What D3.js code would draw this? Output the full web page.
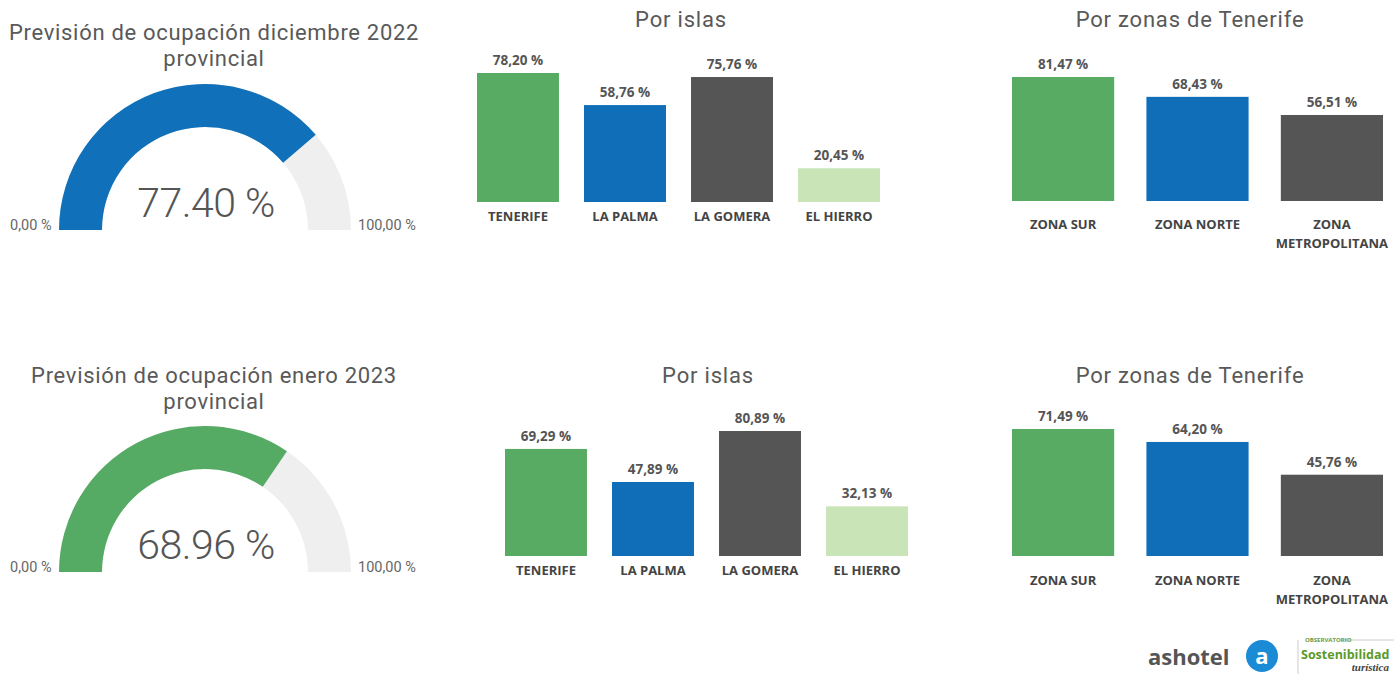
<!DOCTYPE html>
<html><head><meta charset="utf-8">
<script src="https://cdn.jsdelivr.net/npm/d3@7"></script>
<style>
body{margin:0;background:#fff;}
svg{display:block;}
</style></head>
<body>
<svg id="c" width="1394" height="674"></svg>
<script>
// ---- data ----
const gaugeTitles = [["Previsión de ocupación diciembre 2022","provincial"],["Previsión de ocupación enero 2023","provincial"]];
const gaugeValues = [77.40, 68.96];
const gaugeMin = 0, gaugeMax = 100;
const islas = ["TENERIFE","LA PALMA","LA GOMERA","EL HIERRO"];
const islasDic = [78.20, 58.76, 75.76, 20.45];
const islasEne = [69.29, 47.89, 80.89, 32.13];
const zonas = [["ZONA SUR"],["ZONA NORTE"],["ZONA","METROPOLITANA"]];
const zonasDic = [81.47, 68.43, 56.51];
const zonasEne = [71.49, 64.20, 45.76];
const islasTitle = "Por islas";
const zonasTitle = "Por zonas de Tenerife";

// ---- styles ----
const islaColors = ["#57AB63","#106EB8","#555555","#C9E5B8"];
const zonaColors = ["#57AB63","#106EB8","#555555"];
const gaugeColors = ["#1170BA","#55AA64"];
const fmt = v => d3.format(".2f")(v).replace(".", ",") + " %";
const svg = d3.select("#c");
const titleFont = "Roboto, 'DejaVu Sans', sans-serif";
const labelFont = "'Open Sans', 'Noto Sans', sans-serif";

// ---- gauges ----
const gauges = [{cx:212, cy:230, acx:205, ty:40}, {cx:212, cy:572, acx:205, ty:383}];
gauges.forEach((g, i) => {
  const grp = svg.append("g");
  const t = grp.append("text").attr("x", 214).attr("y", g.ty).attr("text-anchor","middle")
    .attr("font-family", titleFont).attr("font-size", 22).attr("fill","#595959").attr("letter-spacing","0.7");
  t.append("tspan").attr("x", 214).text(gaugeTitles[i][0]);
  t.append("tspan").attr("x", 214).attr("dy", 26).text(gaugeTitles[i][1]);
  const ang = d3.scaleLinear().domain([gaugeMin, gaugeMax]).range([-Math.PI/2, Math.PI/2]);
  const arc = d3.arc().innerRadius(103).outerRadius(146);
  const ag = grp.append("g").attr("transform", `translate(${g.acx},${g.cy})`);
  ag.append("path").attr("d", arc({startAngle: ang(gaugeMin), endAngle: ang(gaugeMax)})).attr("fill","#EFEFEF");
  ag.append("path").attr("d", arc({startAngle: ang(gaugeMin), endAngle: ang(gaugeValues[i])})).attr("fill", gaugeColors[i]);
  grp.append("text").attr("x", g.acx + 1).attr("y", g.cy - 13).attr("text-anchor","middle")
    .attr("font-family", titleFont).attr("font-weight", 300).attr("font-size", 41).attr("fill","#555")
    .attr("letter-spacing","-0.5")
    .text(d3.format(".2f")(gaugeValues[i]) + " %");
  grp.append("text").attr("x", 10).attr("y", g.cy).attr("font-family", titleFont).attr("font-size", 14.5).attr("fill","#666")
    .text(fmt(gaugeMin));
  grp.append("text").attr("x", 358).attr("y", g.cy).attr("font-family", titleFont).attr("font-size", 14.5).attr("fill","#666")
    .text(fmt(gaugeMax));
});

// ---- bar charts ----
function barChart(o){
  const x = d3.scaleBand().domain(o.cats.map((c,i)=>i)).range([o.x0, o.x1]).paddingInner(o.pad).paddingOuter(0);
  const y = d3.scaleLinear().domain([0, d3.max(o.vals)]).range([o.base, o.base - o.h]);
  const g = svg.append("g");
  g.append("text").attr("x", o.tx).attr("y", o.ty).attr("text-anchor","middle").attr("font-family", titleFont)
    .attr("font-size", 22).attr("fill","#595959").attr("letter-spacing","0.8").text(o.title);
  g.selectAll("rect").data(o.vals).join("rect")
    .attr("x", (d,i)=>x(i)).attr("width", x.bandwidth())
    .attr("y", d=>y(d)).attr("height", d=>o.base - y(d))
    .attr("fill", (d,i)=>o.colors[i]);
  g.selectAll("text.v").data(o.vals).join("text").attr("class","v")
    .attr("x",(d,i)=>x(i)+x.bandwidth()/2).attr("y", d=>y(d)-8).attr("text-anchor","middle")
    .attr("font-family", labelFont).attr("font-weight", 700).attr("font-size", 13.5).attr("fill","#555")
    .text(d=>fmt(d));
  o.cats.forEach((c,i)=>{
    const lines = Array.isArray(c) ? c : [c];
    const t = g.append("text").attr("x", x(i)+x.bandwidth()/2).attr("y", o.base + o.ld).attr("text-anchor","middle")
      .attr("font-family", labelFont).attr("font-weight", 700).attr("font-size", 13).attr("fill","#444");
    lines.forEach((l,k)=> t.append("tspan").attr("x", x(i)+x.bandwidth()/2).attr("dy", k?19:0).text(l));
  });
}
barChart({cats: islas, vals: islasDic, colors: islaColors, x0:477, x1:880, pad:0.234, base:202, h:129, ld:19, title: islasTitle, tx:681, ty:27});
barChart({cats: zonas, vals: zonasDic, colors: zonaColors, x0:1012, x1:1383, pad:0.24, base:201, h:124, ld:28, title: zonasTitle, tx:1190, ty:27});
barChart({cats: islas, vals: islasEne, colors: islaColors, x0:505, x1:908, pad:0.234, base:556, h:125, ld:19, title: islasTitle, tx:708, ty:383});
barChart({cats: zonas, vals: zonasEne, colors: zonaColors, x0:1012, x1:1383, pad:0.24, base:556, h:127, ld:29, title: zonasTitle, tx:1190, ty:383});

// ---- logos ----
const lg = svg.append("g");
lg.append("text").attr("x", 1148).attr("y", 665).attr("font-family","'Open Sans', sans-serif").attr("font-weight",700)
  .attr("font-size", 22).attr("fill","#555").text("ashotel");
lg.append("circle").attr("cx", 1262).attr("cy", 656).attr("r", 16).attr("fill","#1C8BD6");
lg.append("text").attr("x", 1262).attr("y", 664).attr("text-anchor","middle").attr("font-family","'Open Sans', sans-serif")
  .attr("font-weight",700).attr("font-size", 22).attr("fill","#fff").text("a");
lg.append("line").attr("x1",1298).attr("x2",1298).attr("y1",640).attr("y2",674).attr("stroke","#ccc");
lg.append("line").attr("x1",1340).attr("x2",1394).attr("y1",640).attr("y2",640).attr("stroke","#ccc");
lg.append("text").attr("x", 1305).attr("y", 642).attr("font-family","'Open Sans', sans-serif").attr("font-weight",700)
  .attr("font-size", 6).attr("fill","#6a9a3a").text("OBSERVATORIO");
lg.append("text").attr("x", 1301).attr("y", 659).attr("font-family","'Open Sans', sans-serif").attr("font-weight",700)
  .attr("font-size", 12.5).attr("fill","#5a9a2a").text("Sostenibilidad");
lg.append("text").attr("x", 1389).attr("y", 671).attr("text-anchor","end").attr("font-family","'Liberation Serif', serif").attr("font-style","italic").attr("font-weight",700)
  .attr("font-size", 11).attr("fill","#444").text("turística");
</script>
</body></html>
